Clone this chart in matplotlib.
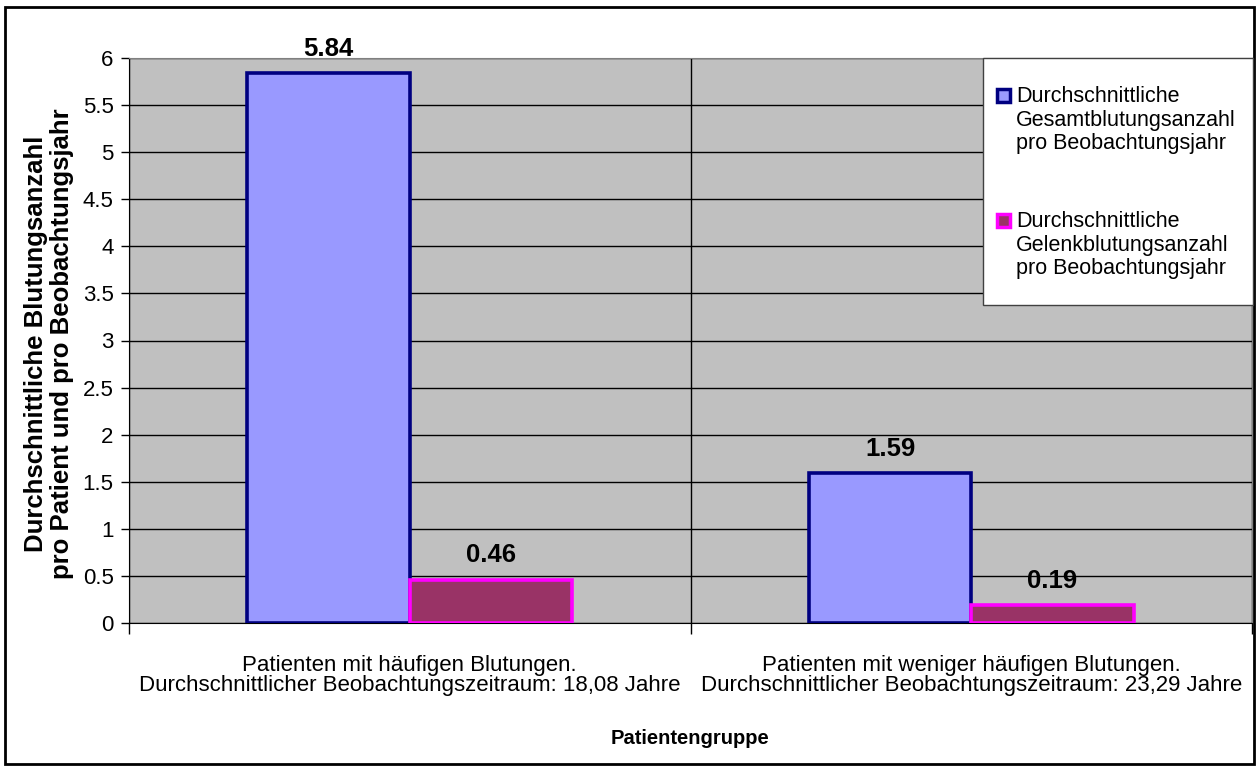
import matplotlib
matplotlib.use('Agg')
import matplotlib.pyplot as plt
import numpy as np
from matplotlib.patches import Rectangle

plt.rcParams['font.family'] = ['Liberation Sans', 'DejaVu Sans']

# Data
groups = ["Patienten mit häufigen Blutungen.\nDurchschnittlicher Beobachtungszeitraum: 18,08 Jahre",
          "Patienten mit weniger häufigen Blutungen.\nDurchschnittlicher Beobachtungszeitraum: 23,29 Jahre"]
series_labels = ["Durchschnittliche\nGesamtblutungsanzahl\npro Beobachtungsjahr",
                 "Durchschnittliche\nGelenkblutungsanzahl\npro Beobachtungsjahr"]
total_bleeds = [5.84, 1.59]
joint_bleeds = [0.46, 0.19]
yticks = np.arange(0, 6.01, 0.5)

fills = ["#9999FF", "#993366"]
edges = ["#000080", "#FF00FF"]

W, H = 1259, 771
fig = plt.figure(figsize=(W / 100, H / 100), dpi=100)


def px(x, y):
    # pixel position (from top-left) -> figure fraction
    return x / W, 1 - y / H


# outer frame around the whole chart
fig.patches.append(Rectangle(px(5, 764), 1249 / W, 757 / H, transform=fig.transFigure,
                             fill=False, edgecolor='black', linewidth=2, zorder=0))

left, top = px(129, 58)
right, bottom = px(1252, 623)
ax = fig.add_axes([left, bottom, right - left, top - bottom])
ax.set_facecolor("#C0C0C0")

x = np.arange(len(groups))
bw = 0.289
ax.bar(x - bw / 2, total_bleeds, bw, color=fills[0], edgecolor=edges[0], linewidth=2.6, zorder=3)
ax.bar(x + bw / 2, joint_bleeds, bw, color=fills[1], edgecolor=edges[1], linewidth=2.6, zorder=3)

for xs, vals in [(x - bw / 2, total_bleeds), (x + bw / 2, joint_bleeds)]:
    for xi, v in zip(xs, vals):
        ax.annotate("%.2f" % v, (xi, v), xytext=(0, 12.5), textcoords='offset points',
                    ha='center', va='baseline', fontsize=18.5, fontweight='bold', zorder=5)

ax.set_xlim(-0.5, len(groups) - 0.5)
ax.set_ylim(0, 6)
ax.set_yticks(yticks)
ax.set_yticklabels(["%g" % t for t in yticks])
ax.tick_params(axis='y', direction='out', length=6, width=1, labelsize=16, pad=5)

ax.set_xticks(x)
ax.set_xticklabels(groups, fontsize=16, linespacing=0.95)
ax.tick_params(axis='x', which='major', length=0, pad=23)
ax.set_xticks(np.arange(-0.5, len(groups)), minor=True)
ax.tick_params(axis='x', which='minor', direction='out', length=8, width=1)

ax.grid(axis='y', color='black', linewidth=1, zorder=1)
ax.grid(axis='x', which='minor', color='black', linewidth=1, zorder=1)
ax.set_axisbelow(True)

for s in ['top', 'right']:
    ax.spines[s].set_color('#808080')
for s in ['left', 'bottom']:
    ax.spines[s].set_color('black')

fig.text(*px(49, 344), "Durchschnittliche Blutungsanzahl\npro Patient und pro Beobachtungsjahr",
         rotation=90, ha='center', va='center', fontsize=18.5, fontweight='bold', linespacing=1.08)
fig.text(*px(690, 738), "Patientengruppe", ha='center', va='center', fontsize=14.5, fontweight='bold')

# legend box
lx0, ly0 = px(983, 305)
lx1, ly1 = px(1253, 58)
fig.patches.append(Rectangle((lx0, ly0), lx1 - lx0, ly1 - ly0, transform=fig.transFigure,
                             facecolor='white', edgecolor='#404040', linewidth=1, zorder=10))
for i, (lab, fc, ec) in enumerate(zip(series_labels, fills, edges)):
    ytop = 95 + i * 125
    sx, sy = px(997, ytop + 7)
    fig.patches.append(Rectangle((sx, sy), 13 / W, 13 / H, transform=fig.transFigure,
                                 facecolor=fc, edgecolor=ec, linewidth=2.5, zorder=11))
    fig.text(*px(1016, ytop - 9), lab, ha='left', va='top', fontsize=15.5,
             linespacing=1.16, zorder=12)

fig.savefig("out.png", dpi=100)
